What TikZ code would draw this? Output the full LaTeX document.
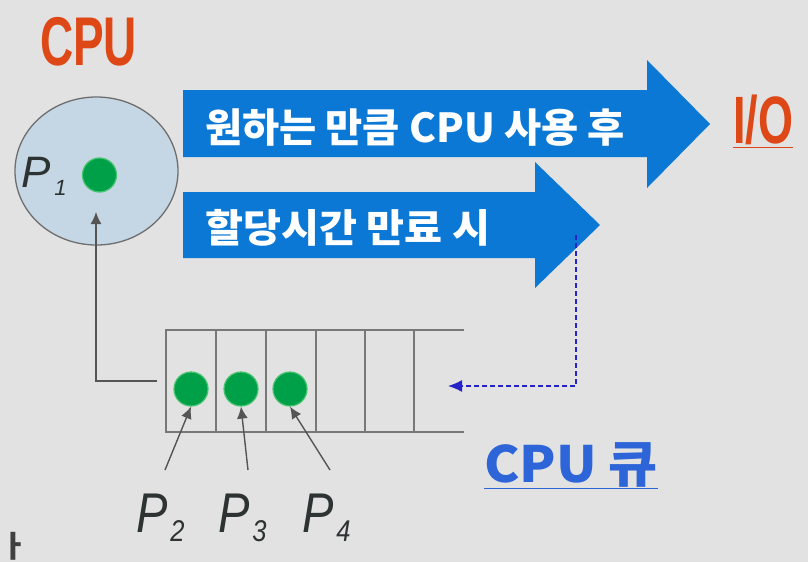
\documentclass[tikz,border=0pt]{standalone}
\usepackage{fontspec}
\usepackage{graphicx}
\setmainfont{Liberation Sans}
\newfontfamily\kr{Noto Sans CJK KR}
\usetikzlibrary{arrows.meta,shapes.geometric}
\definecolor{bg}{RGB}{226,226,226}
\definecolor{arrblue}{RGB}{10,120,212}
\definecolor{cpured}{RGB}{222,72,22}
\definecolor{qblue}{RGB}{45,100,215}
\definecolor{dashblue}{RGB}{35,35,200}
\definecolor{ellfill}{RGB}{197,214,228}
\definecolor{ellline}{RGB}{110,110,110}
\definecolor{dotgreen}{RGB}{0,160,72}
\definecolor{dotedge}{RGB}{70,195,110}
\definecolor{linegray}{RGB}{85,85,85}
\definecolor{qgray}{RGB}{120,120,120}
\definecolor{ptext}{RGB}{45,50,50}
\tikzset{
  dot/.style={circle, fill=dotgreen, draw=dotedge, line width=1.2pt, minimum size=34pt, inner sep=0pt},
  bigarrow/.style={fill=arrblue},
  conn/.style={draw=linegray, line width=1.4pt, -{Latex[length=12pt,width=11pt]}},
  txt/.style={inner sep=0pt, outer sep=0pt, anchor=base west},
  plbl/.style={txt, text=ptext, font=\itshape\fontsize{56}{56}\selectfont},
  qline/.style={draw=qgray, line width=1.6pt},
}
\newcommand{\plabel}[1]{\scalebox{0.84}[1]{P}\hspace{3pt}\raisebox{-9pt}{\fontsize{30}{30}\selectfont\scalebox{0.85}[1]{#1}}}
\begin{document}
\begin{tikzpicture}[x=1pt,y=-1pt]
\fill[bg] (0,0) rectangle (808,562);
\useasboundingbox (0,0) rectangle (808,562);

% big arrows
\fill[bigarrow] (183,90) -- (647,90) -- (647,60) -- (710,124) -- (647,188) -- (647,157) -- (183,157) -- cycle;
\fill[bigarrow] (183,192) -- (535,192) -- (535,162) -- (600,225) -- (535,288) -- (535,258) -- (183,258) -- cycle;
\node[txt, text=white] (t1) at (205,142) {\kr\bfseries\fontsize{40}{40}\selectfont\resizebox{420pt}{\height}{원하는 만큼 CPU 사용 후}};
\node[txt, text=white] (t2) at (205,242) {\kr\bfseries\fontsize{39}{39}\selectfont\resizebox{285pt}{\height}{할당시간 만료 시}};

% CPU label
\node[txt, text=cpured] (cpulbl) at (40,65) {\bfseries\fontsize{69}{69}\selectfont\resizebox{97pt}{\height}{CPU}};
% I/O
\node[txt, text=cpured] (io) at (733,143) {\bfseries\fontsize{67}{67}\selectfont\resizebox{60pt}{\height}{I/O}};
\draw[cpured, line width=1.6pt] (733,147.5) -- (793,147.5);

% CPU ellipse
\node[ellipse, draw=ellline, fill=ellfill, line width=1.3pt, minimum width=163pt, minimum height=148pt] (cpu) at (96.5,171) {};
\node[dot] (p1) at (99.5,175) {};
\node[txt, text=ptext] (p1lbl) at (21,187) {\itshape\fontsize{44}{44}\selectfont P\hspace{4pt}\raisebox{-8pt}{\fontsize{22}{22}\selectfont 1}};

% queue
\draw[qline] (165,330) -- (464,330);
\draw[qline] (165,432) -- (464,432);
\foreach \x in {166,216,266,316,365,414} {\draw[qline] (\x,330) -- (\x,432);}
\node[dot] (p2) at (191,389) {};
\node[dot] (p3) at (241,389) {};
\node[dot] (p4) at (290,389) {};

% queue -> cpu
\coordinate (qout) at (157,381);
\coordinate (p1in) at (96,212);
\draw[conn] (qout) -- (96,381) -- (p1in);

% pointers
\coordinate (a2) at (165,470);
\coordinate (a3) at (248,470);
\coordinate (a4) at (330,470);
\draw[conn] (a2) -- (p2.south);
\draw[conn] (a3) -- (p3.south);
\draw[conn] (a4) -- (p4.south);

% P labels
\node[plbl] (l2) at (136,532) {\plabel{2}};
\node[plbl] (l3) at (218,532) {\plabel{3}};
\node[plbl] (l4) at (302,532) {\plabel{4}};

% dashed return
\coordinate (dstart) at (576,235);
\coordinate (qin) at (448,386);
\draw[dashblue, line width=1.3pt, dash pattern=on 5pt off 3pt, -{Latex[length=14pt,width=12pt]}] (dstart) |- (qin);

% CPU queue label
\node[txt, text=qblue] (qlbl) at (484,482) {\kr\bfseries\fontsize{50}{50}\selectfont\resizebox{174pt}{\height}{CPU 큐}};
\draw[qblue, line width=1.6pt] (484,488.5) -- (658,488.5);

% glyph at the lower left corner
\node[inner sep=0pt, text=black!75] (cut) at (14,546) {\kr\bfseries\fontsize{30}{30}\selectfont ㅏ};
\end{tikzpicture}
\end{document}
